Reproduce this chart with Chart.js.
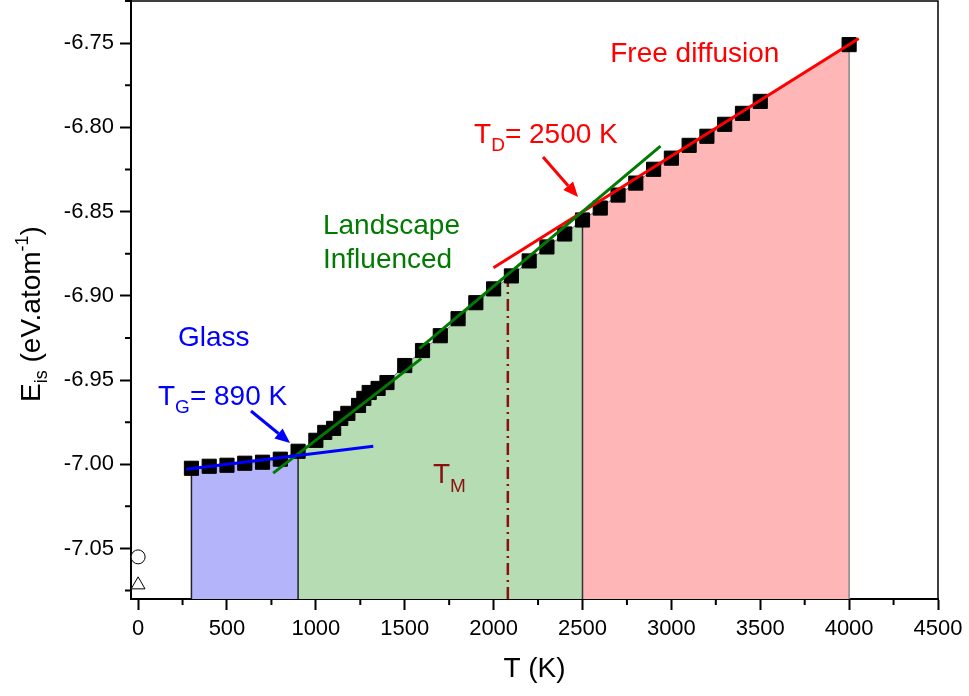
<!DOCTYPE html>
<html><head><meta charset="utf-8">
<script src="https://cdn.jsdelivr.net/npm/chart.js@4.4.1/dist/chart.umd.min.js"></script>
<style>html,body{margin:0;padding:0;background:#fff;}#wrap{width:969px;height:696px;}</style>
</head><body><div id="wrap"><canvas id="c" width="969" height="696"></canvas></div>
<script>
// ---- data ----
const temperatures = [300,400,500,600,700,800,900,1000,1050,1100,1140,1180,1240,1270,1300,1350,1400,1500,1600,1700,1800,1900,2000,2100,2200,2300,2400,2500,2600,2700,2800,2900,3000,3100,3200,3300,3400,3500,4000];
const energies = [-7.0024,-7.0012,-7.0006,-6.9994,-6.9988,-6.9970,-6.9923,-6.9858,-6.9811,-6.9787,-6.9728,-6.9698,-6.9651,-6.9609,-6.9574,-6.9550,-6.9515,-6.9414,-6.9325,-6.9237,-6.9136,-6.9041,-6.8959,-6.8882,-6.8793,-6.8710,-6.8633,-6.8550,-6.8479,-6.8402,-6.8331,-6.8249,-6.8183,-6.8107,-6.8053,-6.7982,-6.7917,-6.7846,-6.7509];
const glassFitT = [270, 1323];
const glassFitE = [-7.0030, -6.9893];
const landscapeFitT1 = [760, 1593];
const landscapeFitE1 = [-7.0053, -6.9373];
const landscapeFitT2 = [1582, 2939];
const landscapeFitE2 = [-6.9314, -6.8112];
const freeFitT = [1999, 4054];
const freeFitE = [-6.8834, -6.7473];
const regionBounds = [300, 900, 2500, 4000];
const meltingT = 2080;
const meltingLineE = [-7.08, -6.888];
const openCircle = {x: 0, y: -7.055};
const openTriangle = {x: 0, y: -7.0716};
const xTicks = [0,500,1000,1500,2000,2500,3000,3500,4000,4500];
const xMinorTicks = [250,750,1250,1750,2250,2750,3250,3750,4250];
const yTicks = [-7.05,-7.00,-6.95,-6.90,-6.85,-6.80,-6.75];
const yMinorTicks = [-7.075,-7.025,-6.975,-6.925,-6.875,-6.825,-6.775,-6.725];
const xRange = [-40, 4500];
const yRange = [-7.08, -6.725];

// ---- helpers ----
const FONT = "'Liberation Sans', Arial, Helvetica, sans-serif";
const pts = (ts, es) => ts.map((t, i) => ({x: t, y: es[i]}));
const allPts = pts(temperatures, energies);
const region = (a, b) => allPts.filter(p => p.x >= a && p.x <= b);
const eAt = t => energies[temperatures.indexOf(t)];
const edge = t => [{x: t, y: yRange[0]}, {x: t, y: eAt(t)}];

const areaDs = (a, b, col) => ({data: region(a, b), showLine: true, fill: 'start', backgroundColor: col,
  borderColor: 'rgba(60,60,60,0.7)', borderWidth: 1, pointRadius: 0, order: 10});
const edgeDs = (t, col) => ({data: edge(t), showLine: true, fill: false, borderColor: col, borderWidth: 1.5, pointRadius: 0, order: 9});
const fitDs = (ts, es, col) => ({data: pts(ts, es), showLine: true, fill: false, borderColor: col, borderWidth: 3, pointRadius: 0, order: 1});

const datasets = [
  areaDs(regionBounds[0], regionBounds[1], 'rgb(180,180,250)'),
  areaDs(regionBounds[1], regionBounds[2], 'rgb(182,220,180)'),
  areaDs(regionBounds[2], regionBounds[3], 'rgb(255,182,182)'),
  edgeDs(regionBounds[0], '#222'),
  edgeDs(regionBounds[1], '#222'),
  edgeDs(regionBounds[2], '#333'),
  edgeDs(regionBounds[3], '#888'),
  {data: [{x: meltingT, y: meltingLineE[0]}, {x: meltingT, y: meltingLineE[1]}], showLine: true, fill: false,
    borderColor: '#8b1010', borderWidth: 2.5, borderDash: [12, 5, 2, 5], pointRadius: 0, order: 8},
  {data: allPts, showLine: false, pointStyle: 'rect', pointRadius: 10, backgroundColor: '#000', borderColor: '#000', borderWidth: 1, order: 5},
  fitDs(glassFitT, glassFitE, '#0000ff'),
  fitDs(landscapeFitT1, landscapeFitE1, '#007a00'),
  fitDs(landscapeFitT2, landscapeFitE2, '#007a00'),
  fitDs(freeFitT, freeFitE, '#ff0000'),
  {data: [openCircle], showLine: false, pointStyle: 'circle', pointRadius: 7, backgroundColor: '#fff', borderColor: '#000', borderWidth: 1, order: 2},
  {data: [openTriangle], showLine: false, pointStyle: 'triangle', pointRadius: 8, backgroundColor: '#fff', borderColor: '#000', borderWidth: 1, order: 2}
];

// annotations (positions in data coordinates)
const labels = [
  {at: [2656, -6.7612], color: '#ff0000', parts: [['Free diffusion', 28, 0]]},
  {at: [1890, -6.8093], color: '#ff0000', parts: [['T', 28, 0], ['D', 19, 8], ['= 2500 K', 28, 0]]},
  {at: [1040, -6.8633], color: '#007a00', parts: [['Landscape', 28, 0]]},
  {at: [1040, -6.8835], color: '#007a00', parts: [['Influenced', 28, 0]]},
  {at: [224, -6.9298], color: '#0000ff', parts: [['Glass', 28, 0]]},
  {at: [112, -6.9648], color: '#0000ff', parts: [['T', 28, 0], ['G', 19, 8], ['= 890 K', 28, 0]]},
  {at: [1659, -7.0111], color: '#8b1010', parts: [['T', 28, 0], ['M', 19, 9]]}
];
const arrows = [
  {from: [2278, -6.8176], to: [2475, -6.8414], color: '#ff0000'},
  {from: [635, -6.9684], to: [855, -6.9874], color: '#0000ff'}
];

function drawParts(ctx, parts, x, y) {
  let cx = x;
  for (const [t, s, dy] of parts) {
    ctx.font = s + 'px ' + FONT;
    ctx.fillText(t, cx, y + dy);
    cx += ctx.measureText(t).width;
  }
}
function partsWidth(ctx, parts) {
  let w = 0;
  for (const [t, s] of parts) { ctx.font = s + 'px ' + FONT; w += ctx.measureText(t).width; }
  return w;
}

const deco = {
  id: 'deco',
  afterDraw(chart) {
    const ctx = chart.ctx, xs = chart.scales.x, ys = chart.scales.y, a = chart.chartArea;
    ctx.save();
    // frame top/right
    ctx.strokeStyle = '#000'; ctx.lineWidth = 1.5;
    ctx.beginPath(); ctx.moveTo(a.left, a.top); ctx.lineTo(a.right, a.top); ctx.lineTo(a.right, a.bottom); ctx.stroke();
    // minor ticks
    ctx.lineWidth = 2;
    ctx.beginPath();
    for (const v of xMinorTicks) { const p = xs.getPixelForValue(v); ctx.moveTo(p, a.bottom); ctx.lineTo(p, a.bottom + 6); }
    for (const v of yMinorTicks) { const p = ys.getPixelForValue(v); ctx.moveTo(a.left, p); ctx.lineTo(a.left - 6, p); }
    ctx.stroke();
    // labels
    ctx.textBaseline = 'alphabetic'; ctx.textAlign = 'left';
    for (const l of labels) {
      ctx.fillStyle = l.color;
      drawParts(ctx, l.parts, xs.getPixelForValue(l.at[0]), ys.getPixelForValue(l.at[1]));
    }
    // arrows
    for (const ar of arrows) {
      const x1 = xs.getPixelForValue(ar.from[0]), y1 = ys.getPixelForValue(ar.from[1]);
      const x2 = xs.getPixelForValue(ar.to[0]), y2 = ys.getPixelForValue(ar.to[1]);
      const ang = Math.atan2(y2 - y1, x2 - x1), L = 15, W = 6.5;
      ctx.strokeStyle = ar.color; ctx.fillStyle = ar.color; ctx.lineWidth = 3;
      ctx.beginPath(); ctx.moveTo(x1, y1); ctx.lineTo(x2 - L * Math.cos(ang), y2 - L * Math.sin(ang)); ctx.stroke();
      ctx.beginPath();
      ctx.moveTo(x2, y2);
      ctx.lineTo(x2 - L * Math.cos(ang) + W * Math.sin(ang), y2 - L * Math.sin(ang) - W * Math.cos(ang));
      ctx.lineTo(x2 - L * Math.cos(ang) - W * Math.sin(ang), y2 - L * Math.sin(ang) + W * Math.cos(ang));
      ctx.closePath(); ctx.fill();
    }
    // axis titles
    ctx.fillStyle = '#000';
    const xt = [['T (K)', 28, 0]];
    drawParts(ctx, xt, (a.left + a.right) / 2 - partsWidth(ctx, xt) / 2, 677);
    const yt = [['E', 28, 0], ['is', 18, 7], [' (eV.atom', 28, 0], ['-1', 18, -12], [')', 28, 0]];
    ctx.translate(40, 314); ctx.rotate(-Math.PI / 2);
    drawParts(ctx, yt, -partsWidth(ctx, yt) / 2, 0);
    ctx.restore();
  }
};

new Chart(document.getElementById('c'), {
  type: 'scatter',
  data: {datasets},
  options: {
    responsive: false, animation: false, devicePixelRatio: 1,
    layout: {autoPadding: false, padding: {top: 1, right: 31, left: 0, bottom: 0}},
    plugins: {legend: {display: false}, tooltip: {enabled: false}},
    scales: {
      x: {
        type: 'linear', min: xRange[0], max: xRange[1],
        afterBuildTicks: s => { s.ticks = xTicks.map(v => ({value: v})); },
        afterFit: s => { s.height = 97; s.paddingLeft = 0; s.paddingRight = 0; },
        grid: {display: true, drawOnChartArea: false, drawTicks: true, tickLength: 11, tickColor: '#000', tickWidth: 2},
        border: {display: true, color: '#000', width: 2},
        ticks: {color: '#000', font: {family: FONT, size: 22}, padding: 6, maxRotation: 0, callback: v => String(v)}
      },
      y: {
        type: 'linear', min: yRange[0], max: yRange[1],
        afterBuildTicks: s => { s.ticks = yTicks.map(v => ({value: v})); },
        afterFit: s => { s.width = 131; s.paddingTop = 0; s.paddingBottom = 0; },
        grid: {display: true, drawOnChartArea: false, drawTicks: true, tickLength: 11, tickColor: '#000', tickWidth: 2},
        border: {display: true, color: '#000', width: 2},
        ticks: {color: '#000', font: {family: FONT, size: 22}, padding: 6, callback: v => v.toFixed(2)}
      }
    }
  },
  plugins: [deco]
});
</script></body></html>
